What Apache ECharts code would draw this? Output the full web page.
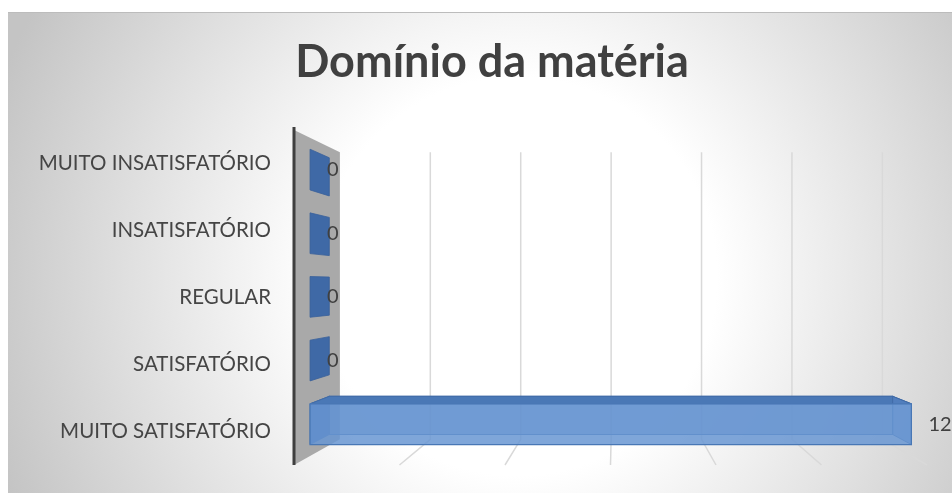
<!DOCTYPE html>
<html>
<head>
<meta charset="utf-8">
<script src="https://cdn.jsdelivr.net/npm/echarts@6/dist/echarts.min.js"></script>
<style>
  html, body { margin: 0; padding: 0; background: #ffffff; }
  #chart { width: 952px; height: 493px; }
</style>
</head>
<body>
<div id="chart"></div>
<script>
// Chart data
const titleText = 'Domínio da matéria';
const categories = ['MUITO INSATISFATÓRIO', 'INSATISFATÓRIO', 'REGULAR', 'SATISFATÓRIO', 'MUITO SATISFATÓRIO'];
const values = [0, 0, 0, 0, 12];
const axisMin = 0;
const axisMax = 12;
const axisStep = 2;
const axisTicks = [0, 2, 4, 6, 8, 10, 12];

// Perspective of the 3-D look: vanishing point as a fraction of the plot box,
// and the depth scale of each layer (1 = front plane).
const VP_FX = 0.507;
const VP_FY = 0.463;
const S_WALL = 0.857;
const S_BAR_FRONT = 0.95;
const S_BAR_BACK = 0.89;
const BAR_RATIO = 0.64;
const LABEL_GAP = 17;
const FONT = 'Lato, "Open Sans", sans-serif';

function vanishingPoint(cs) {
  return [cs.x + cs.width * VP_FX, cs.y + cs.height * VP_FY];
}
function project(x, y, s, vp) {
  return [vp[0] + (x - vp[0]) * s, vp[1] + (y - vp[1]) * s];
}

// Side wall at the value origin and the receding grid lines/floor lines
function renderFrame(params, api) {
  const cs = params.coordSys;
  const vp = vanishingPoint(cs);
  const v = api.value(0);
  const x = api.coord([v, 0])[0];
  const top = cs.y;
  const bot = cs.y + cs.height;
  const children = [];
  if (v === axisMin) {
    children.push({
      type: 'polygon',
      shape: { points: [project(x, top, 1, vp), project(x, top, S_WALL, vp), project(x, bot, S_WALL, vp), project(x, bot, 1, vp)] },
      style: { fill: '#a9a9a9' }
    });
    children.push({
      type: 'line',
      shape: { x1: x, y1: top - 3, x2: x, y2: bot },
      style: { stroke: '#3f3f3f', lineWidth: 3 }
    });
  } else {
    const a = project(x, top, S_WALL, vp);
    const b = project(x, bot, S_WALL, vp);
    const c = project(x, bot, 1, vp);
    children.push({
      type: 'polyline',
      shape: { points: [a, b, c] },
      style: { stroke: '#d9d9d9', lineWidth: 1.5, fill: null }
    });
  }
  return { type: 'group', children };
}

// Box-shaped bar with value label
function renderBar(params, api) {
  const cs = params.coordSys;
  const vp = vanishingPoint(cs);
  const v = api.value(0);
  const idx = api.value(1);
  const base = api.coord([axisMin, idx]);
  const end = api.coord([v, idx]);
  const h = api.size([0, 1])[1] * BAR_RATIO;
  const yt = base[1] - h / 2;
  const yb = base[1] + h / 2;
  const x0 = base[0];
  const x1 = end[0];
  const F = (x, y) => project(x, y, S_BAR_FRONT, vp);
  const B = (x, y) => project(x, y, S_BAR_BACK, vp);
  const children = [];
  const poly = (pts, style) => children.push({ type: 'polygon', shape: { points: pts }, style });
  const hasLength = x1 - x0 > 0.5;
  if (hasLength) {
    poly([B(x0, yt), B(x1, yt), B(x1, yb), B(x0, yb)], { fill: 'rgba(74,120,186,0.55)', stroke: '#3f6aa6', lineWidth: 1.2 });
  }
  poly([F(x0, yt), B(x0, yt), B(x0, yb), F(x0, yb)], { fill: '#3f69a6', stroke: '#3a619b', lineWidth: 0.8 });
  if (hasLength) {
    poly([F(x0, yt), F(x1, yt), B(x1, yt), B(x0, yt)], { fill: '#4a78b6', stroke: '#416ca8', lineWidth: 1 });
    poly([F(x1, yt), B(x1, yt), B(x1, yb), F(x1, yb)], { fill: 'rgba(84,128,192,0.7)', stroke: '#3f6aa6', lineWidth: 1 });
    poly([F(x0, yt), F(x1, yt), F(x1, yb), F(x0, yb)], { fill: 'rgba(104,150,210,0.85)', stroke: '#4877b5', lineWidth: 1.2 });
  }
  const lp = F(x1, base[1]);
  children.push({
    type: 'text',
    x: lp[0] + LABEL_GAP,
    y: lp[1],
    style: { text: String(v), fill: '#404040', fontSize: 20, fontFamily: FONT, align: 'left', verticalAlign: 'middle' }
  });
  return { type: 'group', children };
}

const chart = echarts.init(document.getElementById('chart'), null, { renderer: 'canvas' });

chart.setOption({
  animation: false,
  backgroundColor: '#ffffff',
  graphic: [{
    type: 'rect',
    z: -10,
    silent: true,
    shape: { x: 8, y: 12, width: 944, height: 481 },
    style: {
      fill: new echarts.graphic.RadialGradient(0.54, 0.55, 1.15, [
        { offset: 0, color: '#ffffff' },
        { offset: 0.36, color: '#ffffff' },
        { offset: 0.7, color: '#e0e0e0' },
        { offset: 1, color: '#c4c4c4' }
      ])
    }
  }, {
    type: 'line',
    z: -9,
    silent: true,
    shape: { x1: 8, y1: 12.5, x2: 952, y2: 12.5 },
    style: { stroke: '#bcbcbc', lineWidth: 1 }
  }],
  title: {
    text: titleText,
    left: 487,
    top: 35,
    textAlign: 'center',
    textStyle: { fontFamily: FONT, fontSize: 45, fontWeight: 'bold', color: '#404040' }
  },
  grid: { left: 294, right: 25, top: 130, bottom: 28, containLabel: false },
  xAxis: {
    type: 'value',
    min: axisMin,
    max: axisMax,
    interval: axisStep,
    show: false
  },
  yAxis: {
    type: 'category',
    data: categories,
    inverse: true,
    axisLine: { show: false },
    axisTick: { show: false },
    axisLabel: { margin: 23, fontSize: 20.5, fontFamily: FONT, color: '#454545' }
  },
  series: [{
    type: 'custom',
    name: 'frame',
    silent: true,
    z: 1,
    renderItem: renderFrame,
    encode: { x: 0 },
    data: axisTicks.map(t => [t, 0])
  }, {
    type: 'custom',
    name: 'Domínio da matéria',
    z: 3,
    renderItem: renderBar,
    encode: { x: 0, y: 1 },
    data: values.map((v, i) => [v, i])
  }]
});
</script>
</body>
</html>
